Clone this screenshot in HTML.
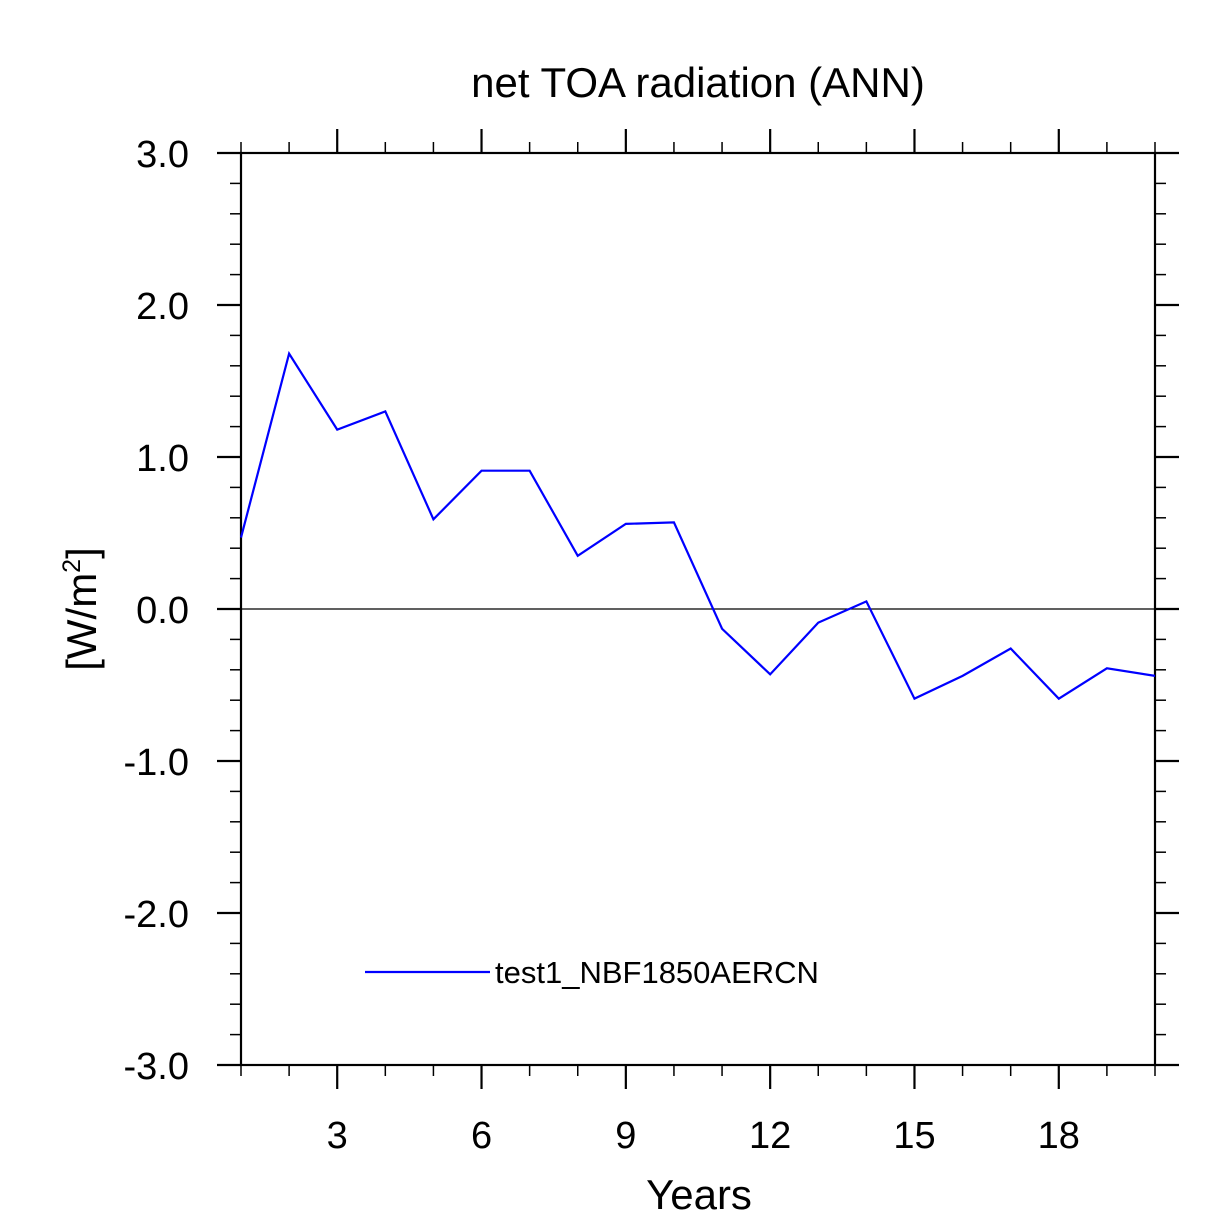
<!DOCTYPE html>
<html><head><meta charset="utf-8"><style>
body{margin:0;background:#fff}
svg{display:block}
text{font-family:"Liberation Sans",sans-serif;fill:#000}
</style></head><body>
<svg id="chart" width="1229" height="1227" viewBox="0 0 1229 1227" xmlns="http://www.w3.org/2000/svg">
<text x="698" y="97" font-size="42" text-anchor="middle">net TOA radiation (ANN)</text>
<text x="699" y="1209" font-size="42" text-anchor="middle">Years</text>
<text transform="translate(96,609) rotate(-90)" font-size="42" text-anchor="middle">[W/m<tspan font-size="25" dy="-16">2</tspan><tspan dy="16">]</tspan></text>
<g id="axes"></g>
<g id="marks"></g>
<g>
<line x1="365" y1="972" x2="490" y2="972" stroke="#0000ff" stroke-width="2.2"/>
<text x="495" y="983" font-size="31">test1_NBF1850AERCN</text>
</g>
</svg>
<script>
const years=[1,2,3,4,5,6,7,8,9,10,11,12,13,14,15,16,17,18,19,20];
const values=[0.47,1.68,1.18,1.30,0.59,0.91,0.91,0.35,0.56,0.57,-0.13,-0.43,-0.09,0.05,-0.59,-0.44,-0.26,-0.59,-0.39,-0.44];
const yTicks=[3,2,1,0,-1,-2,-3];
const yTickLabels=["3.0","2.0","1.0","0.0","-1.0","-2.0","-3.0"];
const xTicks=[3,6,9,12,15,18];
const xTickLabels=["3","6","9","12","15","18"];
const L=241,R=1155,T=153,B=1065;
const sx=v=>L+(v-1)*(R-L)/19;
const sy=v=>T+(3-v)*(B-T)/6;
const NS="http://www.w3.org/2000/svg";
const ax=document.getElementById('axes'),mk=document.getElementById('marks');
function mkEl(t,a,p){const e=document.createElementNS(NS,t);for(const k in a)e.setAttribute(k,a[k]);p.appendChild(e);return e;}
const frame=mkEl('rect',{x:L,y:T,width:R-L,height:B-T,fill:'none',stroke:'#000','stroke-width':2.2},ax);


for(let v=-3;v<=3.0001;v+=0.2){const y=sy(v);const major=Math.abs(v-Math.round(v))<1e-6;const len=major?24:11;
const t1=mkEl('line',{x1:L-len,x2:L,y1:y,y2:y,stroke:'#000','stroke-width':major?2.2:1.5},ax);


const t2=mkEl('line',{x1:R,x2:R+len,y1:y,y2:y,stroke:'#000','stroke-width':major?2.2:1.5},ax);

}
yTicks.forEach((v,i)=>{const t=mkEl('text',{x:189,y:sy(v)+14,'font-size':38,'text-anchor':'end'},ax);t.textContent=yTickLabels[i];

});
for(let v=1;v<=20;v++){const x=sx(v);const major=v%3===0;const len=major?24:11;
const t1=mkEl('line',{x1:x,x2:x,y1:T-len,y2:T,stroke:'#000','stroke-width':major?2.2:1.5},ax);


const t2=mkEl('line',{x1:x,x2:x,y1:B,y2:B+len,stroke:'#000','stroke-width':major?2.2:1.5},ax);

}
xTicks.forEach((v,i)=>{const t=mkEl('text',{x:sx(v),y:1148,'font-size':38,'text-anchor':'middle'},ax);t.textContent=xTickLabels[i];

});
const zl=mkEl('line',{x1:L,x2:R,y1:sy(0),y2:sy(0),stroke:'#000','stroke-width':1.3},mk);


const pl=mkEl('polyline',{points:years.map((y,i)=>sx(y)+','+sy(values[i])).join(' '),fill:'none',stroke:'#0000ff','stroke-width':2.2},mk);


</script>
</body></html>
